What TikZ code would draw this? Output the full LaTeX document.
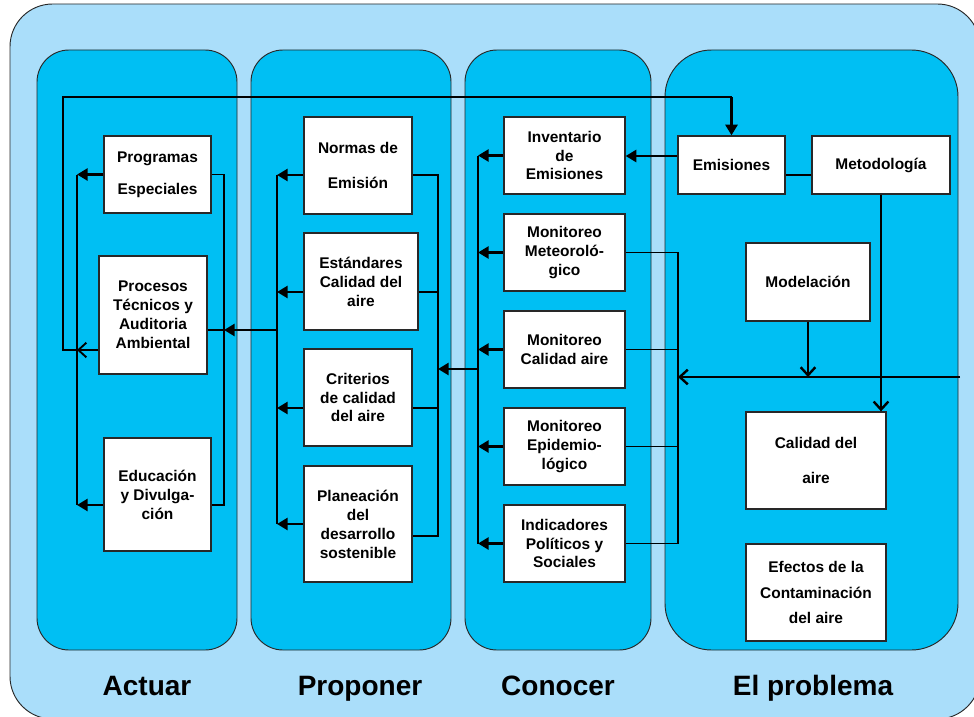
\documentclass[tikz,border=0pt]{standalone}
\usepackage{fontspec}
\setmainfont{Liberation Sans}
\usetikzlibrary{arrows.meta}
\definecolor{outerblue}{RGB}{170,222,250}
\definecolor{colblue}{RGB}{0,191,243}
\definecolor{edgegray}{RGB}{40,40,40}
\tikzset{
  panel/.style={draw=edgegray, line width=0.7pt},
  box/.style={draw=edgegray, fill=white, line width=1pt, align=center, inner sep=0pt,
    font=\bfseries\fontsize{11.6}{14.2}\selectfont},
  thinln/.style={line width=1pt, draw=black},
  thickarr/.style={line width=2.1pt, draw=black, -{Triangle[length=8pt,width=9pt]}},
  openarr/.style={line width=1.8pt, draw=black, -{Straight Barb[length=6pt,width=11pt]}},
  lbl/.style={font=\bfseries\fontsize{21}{25}\selectfont, anchor=base}
}
\newcommand{\bx}[6]{\node[box, minimum width={(#4-#2)*0.75pt}, minimum height={(#5-#3)*0.75pt}] (#1) at ({(#2+#4)/2},{(#3+#5)/2}) {#6};}
\begin{document}
\begin{tikzpicture}[x=0.75pt,y=-0.75pt]
\useasboundingbox (0,0) rectangle (974,717);
\clip (0,0) rectangle (974,717);
% outer panel
\filldraw[panel, fill=outerblue, rounded corners=32pt] (10,4) rectangle (980,719);
% column panels
\filldraw[panel, fill=colblue, rounded corners=24pt] (37,50) rectangle (237,650);
\filldraw[panel, fill=colblue, rounded corners=24pt] (251,50) rectangle (451,650);
\filldraw[panel, fill=colblue, rounded corners=24pt] (465,50) rectangle (651,650);
\filldraw[panel, fill=colblue, rounded corners=35pt] (665,50) rectangle (958,650);

% boxes
\bx{prog}{104}{136}{211}{213}{\raisebox{-2pt}{Programas}\\[12pt]Especiales}
\bx{proc}{99}{256}{207}{374}{Procesos\\Técnicos y\\Auditoria\\Ambiental}
\bx{edu}{104}{438}{211}{551}{Educación\\y Divulga-\\ción}
\bx{norm}{304}{117}{412}{214}{Normas de\\[12pt]Emisión}
\bx{est}{304}{233}{418}{330}{Estándares\\Calidad del\\aire}
\bx{crit}{304}{349}{412}{446}{Criterios\\de calidad\\del aire}
\bx{plan}{304}{466}{412}{582}{Planeación\\del\\desarrollo\\sostenible}
\bx{inv}{504}{117}{625}{194}{Inventario\\de\\Emisiones}
\bx{meteo}{504}{214}{625}{291}{Monitoreo\\Meteoroló-\\gico}
\bx{monca}{504}{311}{625}{388}{Monitoreo\\Calidad aire}
\bx{epi}{504}{408}{625}{485}{Monitoreo\\Epidemio-\\lógico}
\bx{ind}{504}{505}{625}{582}{Indicadores\\Políticos y\\Sociales}
\bx{emis}{678}{136}{785}{194}{Emisiones}
\bx{metod}{812}{136}{950}{194}{\raisebox{-2pt}{Metodología}}
\bx{model}{746}{243}{870}{321}{Modelación}
\bx{calid}{746}{412}{886}{509}{Calidad del\\[12pt]aire}
\bx{efec}{746}{544}{886}{641}{Efectos de la\\[5pt]Contaminación\\[5pt]del aire}

% bus coordinates
\coordinate (topL) at (63,97);
\coordinate (b1L) at (77,0);
\coordinate (b1R) at (224,0);
\coordinate (b2L) at (277,0);
\coordinate (b2R) at (438,0);
\coordinate (b3L) at (478,0);
\coordinate (b3R) at (678,0);
\coordinate (rightend) at (960,377);

% column 1
\draw[thinln] (proc.west |- 0,350) -- (topL |- 0,350) -- (topL) -- (emis.north |- topL);
\draw[thickarr] (emis.north |- topL) -- (emis.north);
\draw[thinln] (prog.west -| b1L) -- (b1L |- 0,505);
\draw[thickarr] (prog.west) -- (prog.west -| b1L);
\draw[thickarr] (edu.west |- 0,505) -- (b1L |- 0,505);
\draw[openarr, line width=1.4pt] (proc.west |- 0,350) -- (b1L |- 0,350);
\draw[thinln] (prog.east) -- (prog.east -| b1R) -- (b1R |- 0,505) -- (edu.east |- 0,505);
\draw[thinln] (proc.east |- 0,330) -- (b1R |- 0,330);
\draw[thickarr] (b2L |- 0,330) -- (b1R |- 0,330);

% column 2
\draw[thinln] (b2L |- 0,175) -- (b2L |- 0,524);
\draw[thickarr] (norm.west |- 0,175) -- (b2L |- 0,175);
\draw[thickarr] (est.west |- 0,292) -- (b2L |- 0,292);
\draw[thickarr] (crit.west |- 0,408) -- (b2L |- 0,408);
\draw[thickarr] (plan.west |- 0,524) -- (b2L |- 0,524);
\draw[thinln] (norm.east |- 0,175) -- (b2R |- 0,175) -- (b2R |- 0,536) -- (plan.east |- 0,536);
\draw[thinln] (est.east |- 0,292) -- (b2R |- 0,292);
\draw[thinln] (crit.east |- 0,408) -- (b2R |- 0,408);
\draw[thickarr] (b3L |- 0,369) -- (b2R |- 0,369);

% column 3
\draw[thinln] (inv.west -| b3L) -- (ind.west -| b3L);
\draw[thickarr] (inv.west) -- (inv.west -| b3L);
\draw[thickarr] (meteo.west) -- (meteo.west -| b3L);
\draw[thickarr] (monca.west) -- (monca.west -| b3L);
\draw[thickarr] (epi.west) -- (epi.west -| b3L);
\draw[thickarr] (ind.west) -- (ind.west -| b3L);
\draw[thinln] (meteo.east) -- (meteo.east -| b3R) -- (ind.east -| b3R) -- (ind.east);
\draw[thinln] (monca.east) -- (monca.east -| b3R);
\draw[thinln] (epi.east) -- (epi.east -| b3R);
\draw[thickarr] (emis.west |- 0,156) -- (inv.east |- 0,156);

% column 4
\draw[openarr] (rightend) -- (b3R |- rightend);
\draw[openarr] (model.south) -- (model.south |- rightend);
\draw[openarr] (metod.south) -- (metod.south |- calid.north);
\draw[thinln] (emis.east |- 0,175) -- (metod.west |- 0,175);

% labels
\node[lbl] (lact) at (147,695) {Actuar};
\node[lbl] (lpro) at (360,695) {Proponer};
\node[lbl] (lcon) at (558,695) {Conocer};
\node[lbl] (lprob) at (813,695) {El problema};
\end{tikzpicture}
\end{document}
